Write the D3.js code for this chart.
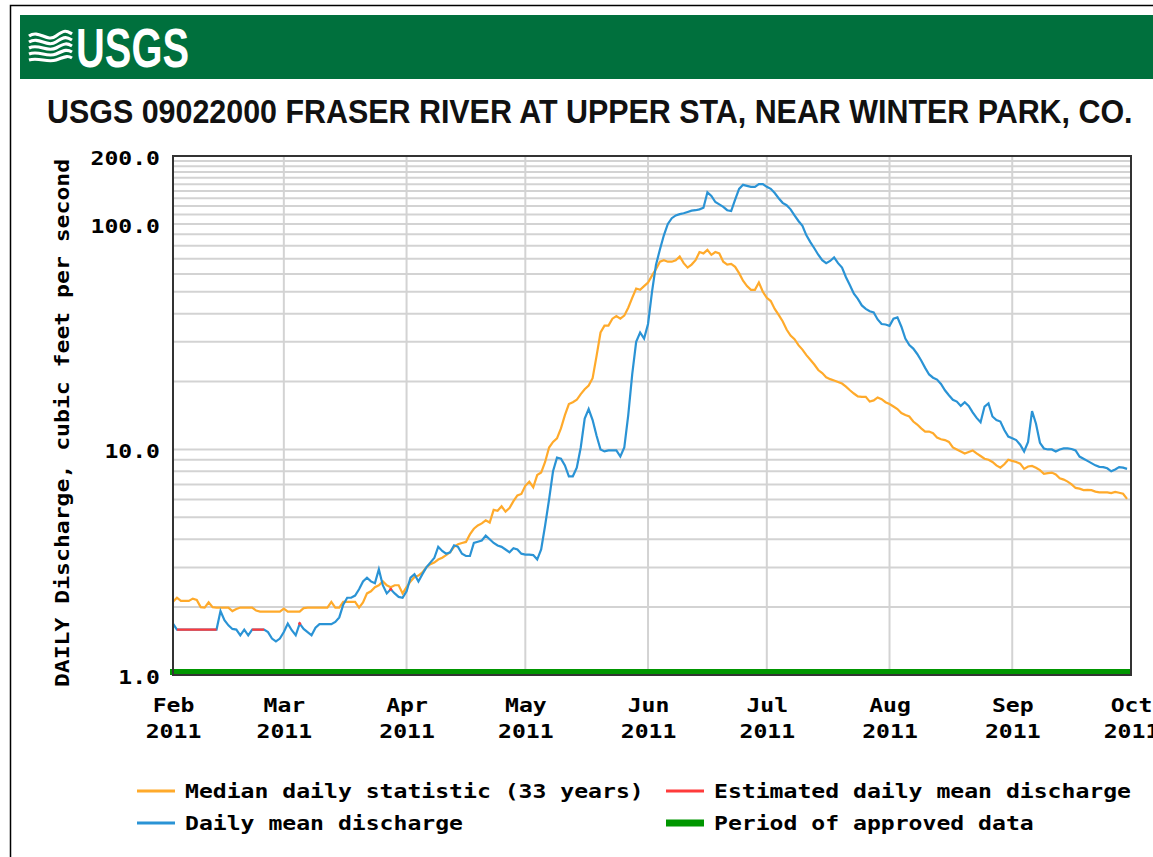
<!DOCTYPE html>
<html><head><meta charset="utf-8">
<script src="https://cdn.jsdelivr.net/npm/d3@7"></script>
<style>body{margin:0;background:#fff}svg{display:block}</style>
</head><body>
<svg id="chart" width="1153" height="857"></svg>
<script>
// ---------------- DATA ----------------
const startDate = "2011-02-01";
const endDate = "2011-10-01";
const titleText = "USGS 09022000 FRASER RIVER AT UPPER STA, NEAR WINTER PARK, CO.";
const yAxisTitle = "DAILY Discharge, cubic feet per second";
const monthLabels = ["Feb","Mar","Apr","May","Jun","Jul","Aug","Sep","Oct"];
const yearLabels = ["2011","2011","2011","2011","2011","2011","2011","2011","2011"];
const yTickValues = [1, 10, 100, 200];
const yGridValues = [2,3,4,5,6,7,8,9,10,20,30,40,50,60,70,80,90,100,110,120,130,140,150,160,170,180,190];
const legendLabels = ["Median daily statistic (33 years)","Estimated daily mean discharge","Daily mean discharge","Period of approved data"];

// median daily statistic, one value per day from Feb 1 to Sep 30
const medianDaily = [
 2.11,2.2,2.13,2.13,2.13,2.18,2.15,2.0,1.99,2.1,
 2.0,1.99,1.99,1.99,1.99,1.92,1.96,1.99,1.99,1.99,
 1.99,1.93,1.91,1.91,1.91,1.91,1.91,1.91,1.97,1.91,
 1.91,1.91,1.91,1.98,1.99,1.99,1.99,1.99,1.99,1.99,
 2.11,1.99,1.99,2.11,2.11,2.11,2.11,1.99,2.1,2.3,
 2.35,2.45,2.5,2.6,2.5,2.45,2.5,2.5,2.3,2.45,
 2.6,2.72,2.76,2.85,3.0,3.1,3.15,3.25,3.31,3.4,
 3.5,3.7,3.8,3.85,3.89,4.2,4.45,4.6,4.7,4.85,
 4.74,5.4,5.35,5.6,5.3,5.5,5.9,6.25,6.35,6.9,
 7.2,6.8,7.7,7.9,8.8,10.2,10.8,11.2,12.4,14.2,
 15.9,16.2,16.6,17.6,18.5,19.2,20.7,26,33,35.4,
 35.4,38,39,38,39.2,42.5,47,51.7,51,53,
 55,59,63,68,69,68,68,69,71.7,67,
 64,66,69,75,74,76.7,72.9,75,74,68,
 66,66.5,64.5,60.5,56,53,51,51,55,50,
 47,45.5,42,39.5,37,34,32,30.8,29,27.7,
 26.2,25,23.8,22.5,21.8,20.9,20.5,20.2,19.9,19.6,
 19.0,18.3,17.7,17.2,17.1,17.1,16.3,16.5,17.0,16.7,
 16.2,15.9,15.5,15.1,14.5,14.2,14.0,13.3,12.9,12.4,
 12.0,12.0,11.8,11.3,11.1,11.0,10.8,10.2,10.0,9.8,
 9.6,9.75,9.9,9.6,9.35,9.1,9.0,8.8,8.5,8.3,
 8.6,9.0,8.9,8.8,8.65,8.2,8.4,8.45,8.3,8.1,
 7.8,7.85,7.9,7.75,7.45,7.35,7.2,7.0,6.75,6.7,
 6.6,6.62,6.6,6.5,6.45,6.46,6.45,6.4,6.48,6.43,
 6.36,6.04
];

// daily mean discharge, one value per day from Feb 1 to Sep 30
const dailyMean = [
 1.69,1.59,1.59,1.59,1.59,1.59,1.59,1.59,1.59,1.59,
 1.59,1.59,1.92,1.75,1.66,1.6,1.59,1.5,1.59,1.5,
 1.59,1.59,1.59,1.59,1.55,1.45,1.41,1.45,1.55,1.69,
 1.58,1.5,1.69,1.6,1.55,1.5,1.62,1.68,1.68,1.68,
 1.68,1.72,1.8,2.05,2.2,2.2,2.25,2.4,2.6,2.7,
 2.6,2.55,2.94,2.5,2.3,2.4,2.3,2.22,2.2,2.35,
 2.7,2.8,2.6,2.8,3.0,3.15,3.3,3.7,3.55,3.45,
 3.5,3.76,3.7,3.45,3.37,3.37,3.85,3.9,3.95,4.15,
 4.0,3.85,3.75,3.7,3.6,3.5,3.65,3.6,3.45,3.42,
 3.42,3.4,3.25,3.6,4.6,6.0,8.0,9.2,9.1,8.5,
 7.6,7.6,8.3,10.2,13.7,15.1,13.5,11.5,10.0,9.8,
 9.9,9.9,9.9,9.3,10.2,14.2,21.5,30,33,31,
 36,50,65.8,77,89,100,106,109,110.5,111.5,
 113,114.5,115,116,118,138,133,125,122,119,
 115,114,128,143,149,147.5,146,146,150,150,
 146,143,137,130,124,121,116,109,103,98,
 89,83,78,73,69,67,68.5,71,67,64,
 58,53.5,49,46.5,43.5,42,41,40.5,37.7,36,
 35.8,35.3,38,38.5,35,31,29,28,26.5,24.8,
 23,21.5,20.8,20.4,19.5,18.3,17.4,16.6,16.3,15.6,
 16.2,15.6,14.6,13.8,13.2,15.5,16.0,14.0,13.5,13.3,
 12.2,11.4,11.2,11.0,10.5,9.8,10.8,14.8,13.0,10.7,
 10.1,10.0,10.0,9.8,10.0,10.1,10.1,10.05,9.9,9.3,
 9.1,8.9,8.7,8.5,8.37,8.35,8.25,8.0,8.15,8.35,
 8.3,8.2
];

// day indices (from Feb 1) whose daily mean is estimated
const estimatedDays = [1,2,3,4,5,6,7,8,9,10,11,20,21,22,23,32,55];

// ---------------- CHART ----------------
const svg = d3.select("#chart");
const W = 1153, H = 857;
const plot = {left: 173, right: 1131, top: 156, bottom: 675};
const MONO = "'DejaVu Sans Mono', 'Liberation Mono', monospace";
const CHW = 13.9; // width of one monospace character in the original

const parse = d3.utcParse("%Y-%m-%d");
const t0 = parse(startDate), t1 = parse(endDate);
const x = d3.scaleUtc().domain([t0, t1]).range([plot.left, plot.right]);
const y = d3.scaleLog().domain([1, 200]).range([plot.bottom, plot.top]);
const dateOf = i => d3.utcDay.offset(t0, i);
const monthTicks = d3.utcMonth.range(t0, d3.utcDay.offset(t1, 1));

// outer frame
svg.append("rect").attr("x", 10.5).attr("y", 5.5).attr("width", W + 20).attr("height", H + 20)
  .attr("fill", "#fff").attr("stroke", "#000").attr("stroke-width", 1.5);

// header band
svg.append("rect").attr("x", 20).attr("y", 15).attr("width", W).attr("height", 64).attr("fill", "#00703d");

// logo waves
const logo = svg.append("g").attr("transform", "translate(29,32)");
const waveY = [4, 10, 16, 22, 28];
logo.selectAll("path").data(waveY).join("path")
  .attr("d", (d, i) => `M0,${d} C10,${d - 7 + i} 18,${d + 7 - i} 27,${d} S38,${d - 5} 43,${d - 2}`)
  .attr("fill", "none").attr("stroke", "#fff").attr("stroke-width", 3.2);

// scale a text horizontally to a target width (keeps its box inside the page)
function fitWidth(sel, target) {
  const node = sel.node();
  const w = node.getComputedTextLength();
  const x0 = +sel.attr("x"), y0 = +sel.attr("y");
  sel.attr("x", 0).attr("y", 0)
    .attr("transform", `translate(${x0},${y0}) scale(${target / w},1)`);
}
const logoText = svg.append("text").attr("x", 76).attr("y", 67)
  .attr("font-family", "'Liberation Sans Narrow','Liberation Sans',Arial,sans-serif")
  .attr("font-weight", "bold").attr("font-size", 56).attr("fill", "#fff").text("USGS");
fitWidth(logoText, 113);

// title
const title = svg.append("text").attr("x", 47).attr("y", 123)
  .attr("font-family", "'Liberation Sans Narrow','Liberation Sans',Arial,sans-serif")
  .attr("font-weight", "bold").attr("font-size", 34).attr("fill", "#111").text(titleText);
fitWidth(title, 1086);

// gridlines
const grid = svg.append("g");
grid.selectAll("line.h").data(yGridValues).join("line")
  .attr("x1", plot.left).attr("x2", plot.right)
  .attr("y1", d => y(d)).attr("y2", d => y(d))
  .attr("stroke", "#d3d3d3").attr("stroke-width", 2);
grid.selectAll("line.v").data(monthTicks.slice(1, -1)).join("line")
  .attr("x1", d => x(d)).attr("x2", d => x(d))
  .attr("y1", plot.top).attr("y2", plot.bottom)
  .attr("stroke", "#d3d3d3").attr("stroke-width", 2);

// approved-data bar
svg.append("line").attr("x1", plot.left - 3).attr("x2", plot.right)
  .attr("y1", plot.bottom - 3).attr("y2", plot.bottom - 3)
  .attr("stroke", "#009600").attr("stroke-width", 6);

// lines
const idx = d3.range(dailyMean.length);
const lineGen = arr => d3.line().x(i => x(dateOf(i))).y(i => y(arr[i]));
svg.append("path").attr("d", lineGen(medianDaily)(d3.range(medianDaily.length)))
  .attr("fill", "none").attr("stroke", "#ffaa2b").attr("stroke-width", 2.2);
svg.append("path").attr("d", lineGen(dailyMean)(idx))
  .attr("fill", "none").attr("stroke", "#2a93d5").attr("stroke-width", 2.2);

// estimated segments in red
const estSet = new Set(estimatedDays);
const estLine = d3.line().defined(i => estSet.has(i)).x(i => x(dateOf(i))).y(i => y(dailyMean[i]));
svg.append("path").attr("d", estLine(idx))
  .attr("fill", "none").attr("stroke", "#ff3b3b").attr("stroke-width", 2.2);
svg.selectAll("circle.est").data(estimatedDays.filter(i => !estSet.has(i - 1) && !estSet.has(i + 1)))
  .join("circle").attr("cx", i => x(dateOf(i))).attr("cy", i => y(dailyMean[i])).attr("r", 1.6)
  .attr("fill", "#ff3b3b");

// plot border
svg.append("rect").attr("x", plot.left).attr("y", plot.top)
  .attr("width", plot.right - plot.left).attr("height", plot.bottom - plot.top)
  .attr("fill", "none").attr("stroke", "#333").attr("stroke-width", 2);

function monoText(sel, str) {
  sel.attr("font-family", MONO).attr("font-weight", "bold").attr("font-size", 19)
    .attr("fill", "#000").attr("textLength", str.length * CHW)
    .attr("lengthAdjust", "spacingAndGlyphs").text(str);
}

// y axis
const yAxis = d3.axisLeft(y).tickValues(yTickValues).tickSize(0).tickPadding(0).tickFormat(d3.format(".1f"));
const yg = svg.append("g").attr("transform", `translate(160,0)`).call(yAxis);
yg.select(".domain").remove();
yg.selectAll(".tick text").each(function(d) {
  const s = d3.format(".1f")(d);
  d3.select(this).attr("x", 0).attr("dy", "0.35em").attr("text-anchor", "end").call(monoText, s);
});
yg.selectAll(".tick").attr("transform", d => `translate(0,${y(d) + 2})`);

// x axis
const xAxis = d3.axisBottom(x).tickValues(monthTicks).tickSize(0).tickFormat((d, i) => monthLabels[i]);
const xg = svg.append("g").attr("transform", `translate(0,${plot.bottom})`).call(xAxis);
xg.select(".domain").remove();
xg.selectAll(".tick text").each(function(d, i) {
  const t = d3.select(this).attr("y", 37).attr("dy", 0).attr("text-anchor", "middle");
  t.call(monoText, monthLabels[i]);
  d3.select(this.parentNode).append("text").attr("y", 63).attr("text-anchor", "middle")
    .call(monoText, yearLabels[i]);
});

// y axis title
svg.append("text").attr("transform", "translate(69,423) rotate(-90)").attr("text-anchor", "middle")
  .call(monoText, yAxisTitle);

// legend
const legendItems = [
  {label: legendLabels[0], color: "#ffaa2b", w: 3, x: 137, y: 791},
  {label: legendLabels[1], color: "#ff3b3b", w: 3, x: 666, y: 791},
  {label: legendLabels[2], color: "#2a93d5", w: 3, x: 137, y: 823},
  {label: legendLabels[3], color: "#009600", w: 7, x: 666, y: 823}
];
const lg = svg.append("g").selectAll("g").data(legendItems).join("g")
  .attr("transform", d => `translate(${d.x},${d.y})`);
lg.append("line").attr("x1", 0).attr("x2", 38).attr("y1", 0).attr("y2", 0)
  .attr("stroke", d => d.color).attr("stroke-width", d => d.w);
lg.append("text").attr("x", 48).attr("y", 7).each(function(d) { d3.select(this).call(monoText, d.label); });
</script>
</body></html>
